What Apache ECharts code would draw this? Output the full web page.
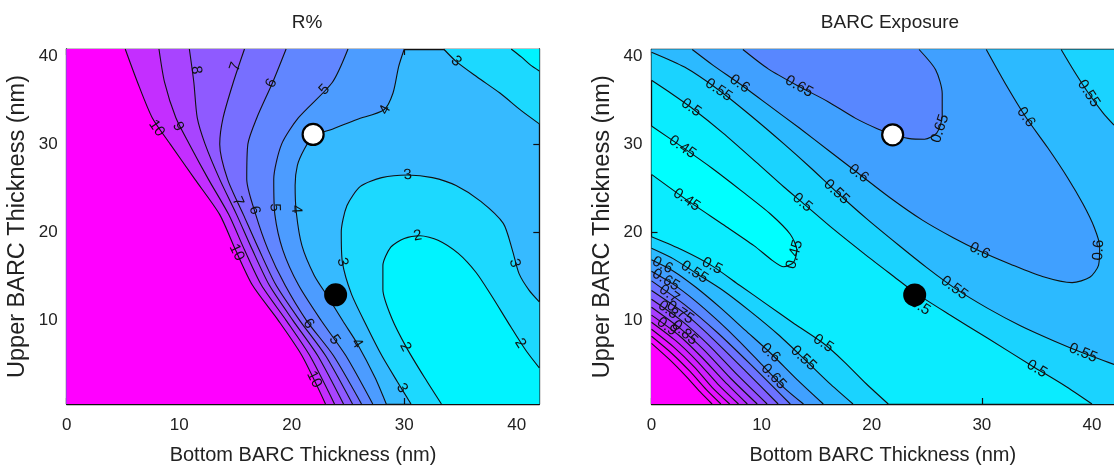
<!DOCTYPE html>
<html><head><meta charset="utf-8">
<script src="https://cdn.jsdelivr.net/npm/echarts@6/dist/echarts.min.js"></script>
<style>html,body{margin:0;padding:0;background:#fff}#c{width:1114px;height:470px}</style>
</head><body><div id="c"></div>
<script>
// ---------- axes ----------
const X_MIN = 0, X_MAX = 42, Y_MIN = 0.5, Y_MAX = 40.8;
const xTicks = [0, 10, 20, 30, 40];
const yTicks = [10, 20, 30, 40];
const titles = ['R%', 'BARC Exposure'];
const xName = 'Bottom BARC Thickness (nm)';
const yName = 'Upper BARC Thickness (nm)';

// ---------- R% contour lines (x, y in nm) ----------
const r10 = [[5.2,40.8],[6.3,37],[7.6,33],[9.2,30],[11.4,26],[13.6,22],[15.0,18],[16.5,14],[18.8,10],[20.9,6],[23.0,0.5]];
const r9  = [[8.2,40.8],[8.7,37],[9.7,33],[10.9,30],[12.6,26],[14.4,22],[15.8,18],[17.3,14],[19.5,10],[21.6,6],[23.8,0.5]];
const r8  = [[10.9,40.8],[11.3,37],[11.6,33],[12.3,30],[13.6,26],[15.1,22],[16.5,18],[18.0,14],[20.1,10],[22.3,6],[24.6,0.5]];
const r7  = [[15.8,40.8],[14.8,37],[13.9,33],[13.6,30],[14.3,26],[15.7,22],[17.1,18],[18.6,14],[20.7,10],[23.0,6],[25.4,0.5]];
const r6  = [[19.5,40.8],[18.3,37],[16.9,33],[16.1,30],[16.0,26],[16.8,22],[17.9,18],[19.4,14],[21.3,10],[23.7,6],[26.2,0.5]];
const r5  = [[25.0,40.8],[23.6,37],[20.6,33],[19.1,30],[18.4,26],[18.5,22],[19.2,18],[20.6,14],[22.6,10],[24.8,6],[27.2,0.5]];
const r4  = [[30.0,40.8],[29.5,38.8],[29.0,35.8],[28.2,33.9],[25.8,32.8],[23.6,31.7],[21.9,30.9],[21.1,29.4],[20.5,27.6],[20.3,25.3],[20.4,22.3],[20.9,18.5],[22.0,15.1],[23.3,12.5],[24.6,9.8],[25.8,7.4],[27.4,3.5],[28.4,0.5]];
const r3  = [[30.6,0.5],[29.4,3],[28.0,6],[26.6,9.5],[25.3,13],[24.5,16.6],[24.4,20],[24.9,23],[26.1,25.2],[28.0,26.2],[30.3,26.5],[32.5,26.2],[34.6,25.3],[36.8,23.5],[38.8,21],[39.6,18],[40.2,15.3],[41.1,13.4],[42,12.1]];
const r3b = [[33.5,40.8],[34.6,39.4],[36.5,37.6],[38.5,35.8],[40.4,33.8],[42,32.3]];
const r2  = [[33.3,0.5],[31.8,3.5],[30.2,6.9],[28.9,10.2],[28.1,13.5],[28.1,16.2],[28.8,18.3],[30.0,19.3],[31.4,19.6],[33.0,19.1],[34.8,17.6],[36.4,15.4],[37.8,12.7],[39.3,9.6],[40.8,6.6],[42,4.6]];
const r2b = [[39.5,40.8],[40.4,39.9],[41.2,39.0],[42,38.3]];

// contour label positions: [level, x, y]
const rLabels = [
  ['10',8.0,31.8],['9',9.9,32.0],['8',11.5,38.4],['7',15.0,38.8],['6',18.2,36.9],['5',22.9,36.2],['4',28.3,33.9],
  ['3',34.6,39.4],['3',30.3,26.5],['3',24.5,16.6],['3',39.8,16.5],['3',29.8,2.3],
  ['2',31.2,19.6],['2',30.1,7.0],['2',40.3,7.4],
  ['10',15.1,17.7],['10',22.0,3.3],
  ['7',15.2,23.5],['6',16.7,22.5],['5',18.5,22.8],['4',20.4,22.6],
  ['6',21.5,9.6],['5',23.8,7.8],['4',25.8,7.4]
];

// ---------- BARC Exposure contour lines ----------
const b065  = [[8.3,40.8],[10.6,38.6],[13.4,36.6],[16.0,34.9],[18.5,33.0],[20.5,31.8],[22.0,31.1],[23.3,30.7],[24.8,30.6],[25.9,31.3],[26.4,33.2],[26.4,35.8],[25.8,38.5],[24.3,40.8]];
const b06   = [[3.7,40.8],[5.6,39.0],[8.0,36.9],[10.6,34.5],[13.4,31.9],[16.2,29.2],[18.8,26.7],[21.6,24.0],[24.6,21.4],[27.4,19.4],[29.8,17.9],[32.6,16.4],[35.5,15.0],[38.2,14.3],[39.8,14.9],[40.6,16.3],[40.7,18.4],[40.2,20.6],[39.2,23.2],[37.8,26.2],[36.0,29.6],[34.0,33.1],[32.1,37.0],[30.4,40.8]];
const b055  = [[0,40.5],[3.0,38.8],[6.1,36.2],[9.0,33.3],[12.0,30.1],[14.5,27.3],[16.8,24.6],[19.5,21.6],[22.4,18.6],[25.0,16.0],[27.5,13.7],[30.5,11.4],[33.5,9.4],[36.5,7.7],[39.2,6.3],[42,5.0]];
const b055b = [[37.2,40.8],[38.4,38.3],[39.7,35.8],[41.0,33.6],[42,32.2]];
const b05   = [[0,37.3],[1.8,35.8],[3.6,34.2],[6.5,31.3],[9.5,28.0],[12.0,25.2],[13.7,23.4],[16.5,20.4],[19.5,17.4],[22.0,15.0],[24.0,13.1],[27.0,10.7],[30.5,8.0],[34.6,4.8],[37.5,2.6],[40.0,0.5]];
const b045  = [[0,32.1],[2.8,29.7],[5.5,27.3],[8.2,24.7],[10.8,22.1],[12.6,19.8],[13.2,18.0],[12.9,16.6],[12.0,16.1],[11.0,16.8],[9.3,18.5],[6.5,20.9],[3.2,23.7],[0,26.6]];
const bL050 = [[0,19.5],[2.8,18.0],[5.5,16.2],[8.0,14.0],[10.5,11.8],[13.0,9.6],[15.6,7.4],[17.5,5.3],[19.5,2.8],[21.5,0.5]];
const bL055 = [[0,18.2],[2.0,17.0],[4.0,15.4],[6.5,13.4],[9.0,11.0],[11.5,8.4],[13.8,5.7],[16.3,2.7],[18.3,0.5]];
const bL060 = [[0,16.9],[2.0,15.6],[4.0,13.8],[6.3,11.4],[8.5,8.9],[10.8,6.3],[13.2,3.3],[15.6,0.5]];
const bL065 = [[0,15.6],[2.0,14.1],[4.0,12.2],[6.0,10.0],[8.0,7.6],[10.0,5.0],[12.0,2.4],[13.8,0.5]];
const bL070 = [[0,14.5],[3.0,11.8],[6.0,8.6],[9.0,5.0],[12.6,0.5]];
const bL075 = [[0,13.4],[3.0,10.8],[5.5,8.0],[8.5,4.3],[11.5,0.5]];
const bL080 = [[0,12.4],[2.8,9.9],[5.2,7.2],[7.8,3.8],[10.5,0.5]];
const bL085 = [[0,11.5],[2.6,9.1],[4.8,6.6],[7.2,3.4],[9.6,0.5]];
const bL090 = [[0,10.6],[2.4,8.4],[4.5,5.9],[6.6,3.1],[8.7,0.5]];
const bL095 = [[0,9.8],[2.2,7.7],[4.2,5.3],[6.0,2.8],[7.9,0.5]];
const bL100 = [[0,9.0],[2.0,7.0],[3.9,4.7],[5.5,2.4],[7.1,0.5]];
const bL105 = [[0,8.2],[1.8,6.3],[3.5,4.2],[5.0,2.1],[6.3,0.5]];
const bL110 = [[0,7.4],[1.6,5.6],[3.1,3.7],[4.4,1.9],[5.5,0.5]];

const bLabels = [
  ['0.6',8.0,36.9],['0.65',13.4,36.6],['0.55',6.1,36.2],['0.5',3.6,34.2],['0.45',2.8,29.7],['0.45',3.2,23.7],['0.45',13.0,17.5],
  ['0.6',18.8,26.7],['0.55',16.8,24.6],['0.5',13.7,23.4],['0.65',26.2,31.8],['0.6',34.0,33.1],['0.55',39.7,35.8],
  ['0.6',29.8,17.9],['0.55',27.5,13.7],['0.5',24.4,11.6],['0.6',40.6,18.0],['0.55',39.2,6.3],['0.5',35.0,4.5],
  ['0.5',5.5,16.2],['0.55',3.9,15.5],['0.6',1.0,16.3],['0.65',1.3,14.6],['0.7',1.6,13.0],['0.75',2.6,10.9],['0.8',1.5,11.2],['0.85',3.0,8.6],['0.9',1.4,9.3],
  ['0.6',10.8,6.3],['0.65',11.1,3.6],['0.55',13.8,5.7],['0.5',15.6,7.4]
];

// ---------- markers ----------
const whiteDot = [[21.9,31.1]];
const blackDot = [[23.9,12.9]];

// ---------- build ----------
const TL = [X_MIN, Y_MAX], TR = [X_MAX, Y_MAX], BL = [X_MIN, Y_MIN], BR = [X_MAX, Y_MIN];

const rLines = [
  ['2', r2], ['2', r2b], ['3', r3], ['3', r3b], ['4', r4], ['5', r5], ['6', r6], ['7', r7], ['8', r8], ['9', r9], ['10', r10]
];
const rBg = '#36baff';
const rFills = [
  [r3.concat([BR]), '#1cd9ff'],
  [r3b.concat([TR]), '#1cd9ff'],
  [r2.concat([BR]), '#00f3ff'],
  [r2b.concat([TR]), '#00f3ff'],
  [r4.concat([BL, TL]), '#4c9cff'],
  [r5.concat([BL, TL]), '#6186ff'],
  [r6.concat([BL, TL]), '#776fff'],
  [r7.concat([BL, TL]), '#8f5aff'],
  [r8.concat([BL, TL]), '#a844ff'],
  [r9.concat([BL, TL]), '#c42eff'],
  [r10.concat([BL, TL]), '#ff00ff']
];

const bLines = [
  ['0.45', b045], ['0.5', b05], ['0.55', b055], ['0.55', b055b], ['0.6', b06], ['0.65', b065],
  ['0.5', bL050], ['0.55', bL055], ['0.6', bL060], ['0.65', bL065], ['0.7', bL070], ['0.75', bL075], ['0.8', bL080],
  ['0.85', bL085], ['0.9', bL090], ['0.95', bL095], ['1', bL100], ['1.05', bL105], ['1.1', bL110]
];
const bBg = '#0aecff';
const bFills = [
  [b05.concat([BR, TR, TL]), '#1ad3ff'],
  [b055.concat(b055b.slice().reverse(), [TL]), '#2cbaff'],
  [b06, '#40a0ff'],
  [b065, '#5887ff'],
  [b045, '#00ffff'],
  [bL050.concat([BL]), '#1ad3ff'],
  [bL055.concat([BL]), '#2cbaff'],
  [bL060.concat([BL]), '#40a0ff'],
  [bL065.concat([BL]), '#5887ff'],
  [bL070.concat([BL]), '#6c72ff'],
  [bL075.concat([BL]), '#805fff'],
  [bL080.concat([BL]), '#944dff'],
  [bL085.concat([BL]), '#a83cff'],
  [bL090.concat([BL]), '#bd2cff'],
  [bL095.concat([BL]), '#d21eff'],
  [bL100.concat([BL]), '#e610ff'],
  [bL105.concat([BL]), '#f606ff'],
  [bL110.concat([BL]), '#ff00ff']
];

const FONT = "'Liberation Sans', Arial, sans-serif";

function axesFor(gi) {
  const common = {
    type: 'value', min: X_MIN, max: X_MAX, gridIndex: gi,
    splitLine: { show: false },
    axisLine: { show: true, onZero: false, lineStyle: { color: '#111', width: 1.3 } },
    axisTick: { show: true, inside: true, length: 6, lineStyle: { color: '#111', width: 1.2 }, customValues: xTicks },
  };
  const xa = Object.assign({}, common, {
    position: 'bottom',
    axisLabel: { show: true, customValues: xTicks, margin: 13, color: '#222', fontSize: 17, fontFamily: FONT },
    name: xName, nameLocation: 'middle', nameGap: 41,
    nameTextStyle: { fontSize: 20, color: '#222', fontFamily: FONT }
  });
  const xt = Object.assign({}, common, { position: 'top', axisLabel: { show: false } });
  const ycommon = {
    type: 'value', min: Y_MIN, max: Y_MAX, gridIndex: gi,
    splitLine: { show: false },
    axisLine: { show: true, onZero: false, lineStyle: { color: '#111', width: 1.3 } },
    axisTick: { show: true, inside: true, length: 6, lineStyle: { color: '#111', width: 1.2 }, customValues: yTicks },
  };
  const ya = Object.assign({}, ycommon, {
    position: 'left',
    axisLabel: { show: true, customValues: yTicks, margin: 9, color: '#222', fontSize: 17, fontFamily: FONT },
    name: yName, nameLocation: 'middle', nameGap: 37, nameRotate: 90,
    nameTextStyle: { fontSize: 23.5, color: '#222', fontFamily: FONT }
  });
  const yr = Object.assign({}, ycommon, { position: 'right', axisLabel: { show: false } });
  return { x: [xa, xt], y: [ya, yr] };
}

const a0 = axesFor(0), a1 = axesFor(1);

function fillSeries(fills, xi, yi) {
  return {
    type: 'custom', xAxisIndex: xi, yAxisIndex: yi, silent: true, z: 1,
    data: fills.map((f, i) => [f[0][0][0], f[0][0][1], i]),
    renderItem: function (params, api) {
      const f = fills[params.dataIndex];
      return { type: 'polygon', shape: { points: f[0].map(p => api.coord(p)) }, style: { fill: f[1], stroke: null } };
    }
  };
}
function lineSeries(lines, xi, yi) {
  return lines.map(l => ({
    type: 'line', xAxisIndex: xi, yAxisIndex: yi, data: l[1], showSymbol: false, symbol: 'none',
    silent: true, z: 3, lineStyle: { color: '#111', width: 1.1 }, smooth: 0.25
  }));
}
function labelSeries(labels, lines, xi, yi) {
  return {
    type: 'custom', xAxisIndex: xi, yAxisIndex: yi, silent: true, z: 5,
    data: labels.map((l, i) => [l[1], l[2], i]),
    renderItem: function (params, api) {
      const lb = labels[params.dataIndex];
      const p = api.coord([lb[1], lb[2]]);
      let best = Infinity, ang = 0;
      lines.filter(l => l[0] === lb[0]).forEach(l => {
        const pts = l[1];
        for (let i = 0; i < pts.length - 1; i++) {
          const a = api.coord(pts[i]), b = api.coord(pts[i + 1]);
          const dx = b[0] - a[0], dy = b[1] - a[1];
          const L2 = dx * dx + dy * dy; if (!L2) continue;
          let t = ((p[0] - a[0]) * dx + (p[1] - a[1]) * dy) / L2;
          t = Math.max(0, Math.min(1, t));
          const qx = a[0] + t * dx - p[0], qy = a[1] + t * dy - p[1];
          const d = qx * qx + qy * qy;
          if (d < best) { best = d; ang = Math.atan2(dy, dx); }
        }
      });
      if (ang > Math.PI / 2) ang -= Math.PI;
      if (ang < -Math.PI / 2) ang += Math.PI;
      return {
        type: 'text', x: p[0], y: p[1], rotation: -ang,
        style: { text: lb[0], fill: '#111', fontSize: 15, fontFamily: FONT, align: 'center', verticalAlign: 'middle' }
      };
    }
  };
}
function dots(xi, yi) {
  return [
    { type: 'scatter', xAxisIndex: xi, yAxisIndex: yi, data: whiteDot, symbolSize: 21, z: 8, silent: true,
      itemStyle: { color: '#ffffff', borderColor: '#000', borderWidth: 2.2, opacity: 1 } },
    { type: 'scatter', xAxisIndex: xi, yAxisIndex: yi, data: blackDot, symbolSize: 23, z: 8, silent: true,
      itemStyle: { color: '#000000', borderColor: '#000', borderWidth: 0, opacity: 1 } }
  ];
}

const option = {
  animation: false,
  backgroundColor: '#fff',
  title: [
    { text: titles[0], left: 302, top: 8, textAlign: 'center', textStyle: { fontSize: 19, fontWeight: 'normal', color: '#222', fontFamily: FONT } },
    { text: titles[1], left: 885, top: 8, textAlign: 'center', textStyle: { fontSize: 19, fontWeight: 'normal', color: '#222', fontFamily: FONT } }
  ],
  grid: [
    { left: 66.7, top: 49, width: 472.6, height: 356.7, show: true, backgroundColor: rBg, borderWidth: 0 },
    { left: 651.5, top: 49.5, width: 470.8, height: 354.8, show: true, backgroundColor: bBg, borderWidth: 0 }
  ],
  xAxis: [a0.x[0], a0.x[1], a1.x[0], a1.x[1]],
  yAxis: [a0.y[0], a0.y[1], a1.y[0], a1.y[1]],
  series: [].concat(
    [fillSeries(rFills, 0, 0)], lineSeries(rLines, 0, 0), [labelSeries(rLabels, rLines, 0, 0)], dots(0, 0),
    [fillSeries(bFills, 2, 2)], lineSeries(bLines, 2, 2), [labelSeries(bLabels, bLines, 2, 2)], dots(2, 2)
  )
};

const chart = echarts.init(document.getElementById('c'), null, { renderer: 'canvas' });
chart.setOption(option);
</script></body></html>
